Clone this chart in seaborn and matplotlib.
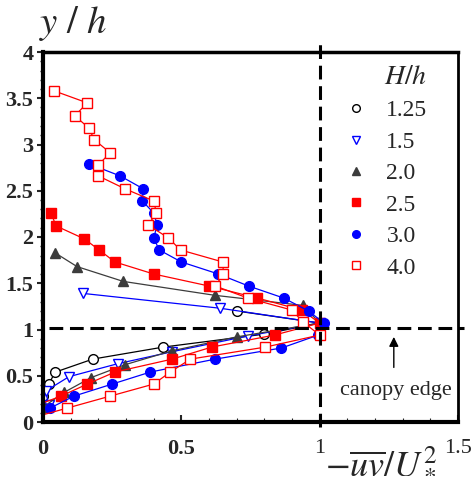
import numpy as np
import pandas as pd
import seaborn as sns
import matplotlib.pyplot as plt
from matplotlib.lines import Line2D

# profiles of -uv/U*^2 against y/h, one list pair per H/h
y_125 = [0.15, 0.28, 0.41, 0.54, 0.68, 0.81, 0.95, 1.07, 1.20]
x_125 = [0.0, 0.0, 0.02, 0.045, 0.18, 0.435, 0.80, 1.0, 0.70]

y_15 = [0.18, 0.335, 0.49, 0.63, 0.76, 0.93, 1.07, 1.23, 1.39]
x_15 = [0.02, 0.01, 0.094, 0.27, 0.467, 0.74, 1.0, 0.64, 0.145]

y_20 = [0.16, 0.32, 0.48, 0.62, 0.77, 0.92, 1.07, 1.26, 1.37, 1.52, 1.68, 1.83]
x_20 = [0.0, 0.076, 0.174, 0.297, 0.467, 0.70, 1.0, 0.94, 0.62, 0.29, 0.123, 0.043]

y_25 = [0.15, 0.28, 0.41, 0.54, 0.68, 0.81, 0.94, 1.07, 1.21, 1.34, 1.47,
        1.60, 1.73, 1.86, 1.98, 2.12, 2.26]
x_25 = [-0.05, 0.065, 0.16, 0.26, 0.467, 0.61, 0.837, 1.0, 0.935, 0.775, 0.60,
        0.40, 0.26, 0.203, 0.149, 0.047, 0.029]

y_30 = [0.15, 0.28, 0.41, 0.54, 0.68, 0.80, 0.94, 1.07, 1.20, 1.34, 1.47,
        1.60, 1.73, 1.86, 1.99, 2.13, 2.26, 2.39, 2.52, 2.66, 2.79]
x_30 = [0.025, 0.112, 0.25, 0.388, 0.623, 0.862, 0.995, 1.015, 0.96, 0.87, 0.743,
        0.634, 0.50, 0.42, 0.40, 0.413, 0.40, 0.359, 0.363, 0.279, 0.167]

y_40 = [0.02, 0.15, 0.28, 0.41, 0.54, 0.68, 0.81, 0.94, 1.08, 1.21, 1.34, 1.47,
        1.60, 1.73, 1.86, 1.99, 2.13, 2.26, 2.39, 2.52, 2.66, 2.78, 2.91, 3.05,
        3.18, 3.31, 3.45, 3.58]
x_40 = [-0.07, 0.087, 0.243, 0.40, 0.46, 0.533, 0.804, 1.0, 0.94, 0.90, 0.74, 0.623,
        0.652, 0.65, 0.497, 0.453, 0.38, 0.41, 0.40, 0.297, 0.2, 0.2, 0.243, 0.186,
        0.165, 0.115, 0.16, 0.04]

labels = ["1.25", "1.5", "2.0", "2.5", "3.0", "4.0"]
xs = [x_125, x_15, x_20, x_25, x_30, x_40]
ys = [y_125, y_15, y_20, y_25, y_30, y_40]

colors = ["black", "blue", "#3c3c3c", "red", "blue", "red"]
markers = ["o", "v", "^", "s", "o", "s"]
filled = [False, False, True, True, True, False]

sns.set_theme(style="ticks")
plt.rcParams["font.family"] = ["Liberation Serif", "DejaVu Serif"]
plt.rcParams["mathtext.fontset"] = "stix"

fig = plt.figure(figsize=(4.72, 4.88), dpi=100)
ax = fig.add_axes([43 / 472, 66 / 488, 415 / 472, 370 / 488])

for lab, x, y, c, m, f in zip(labels, xs, ys, colors, markers, filled):
    df = pd.DataFrame({"x": x, "y": y})
    sns.lineplot(data=df, x="x", y="y", sort=False, estimator=None, ax=ax,
                 color=c, lw=0.9, marker=m, ms=7, mec=c, mew=1.0,
                 mfc=c if f else "white", legend=False)

# canopy edge and unit stress reference lines
ax.plot([0.02, 1.52], [1.02, 1.02], color="black", lw=2.2, dashes=(4.5, 2.2),
        clip_on=False, zorder=5)
ax.plot([1.0, 1.0], [-0.05, 4.1], color="black", lw=2.2, dashes=(4.5, 2.2),
        clip_on=False, zorder=5)

ax.annotate("", xy=(1.268, 0.95), xytext=(1.268, 0.56),
            arrowprops=dict(arrowstyle="-|>", color="black", lw=1, mutation_scale=14))
ax.text(1.275, 0.34, "canopy edge", ha="center", va="center", fontsize=16)

ax.set_xlim(0, 1.5)
ax.set_ylim(0, 4)
ax.set_xticks([0, 0.5, 1, 1.5])
ax.set_xticklabels(["0", "0.5", "1", "1.5"])
ax.set_yticks(np.arange(0, 4.01, 0.5))
ax.set_yticklabels(["0", "0.5", "1", "1.5", "2", "2.5", "3", "3.5", "4"])
ax.set_xticks(np.arange(0, 1.51, 0.1), minor=True)
ax.set_yticks(np.arange(0, 4.01, 0.1), minor=True)
ax.tick_params(axis="y", which="major", direction="out", length=4, width=1.5,
               pad=3, labelsize=16)
ax.tick_params(axis="y", which="minor", direction="out", length=2.5, width=1)
ax.tick_params(axis="x", which="major", direction="in", length=5, width=1.5,
               pad=12, labelsize=16)
ax.tick_params(axis="x", which="minor", direction="in", length=3, width=0.8)
for t in ax.get_yticklabels() + ax.get_xticklabels()[:2]:
    t.set_fontweight("bold")

for side, w in [("left", 3), ("bottom", 3), ("top", 2.5), ("right", 2)]:
    ax.spines[side].set_visible(True)
    ax.spines[side].set_linewidth(w)
    ax.spines[side].set_color("black")

ax.set_xlabel("")
ax.set_ylabel("")
ax.text(-0.01, 1.052, r"$y\ /\ h$", transform=ax.transAxes, fontsize=28,
        ha="left", va="baseline")
ax.text(0.68, -0.13, r"$-\overline{uv}/U_*^2$", transform=ax.transAxes,
        fontsize=26, ha="left", va="baseline")

handles = [Line2D([], [], ls="none", marker=m, ms=5.5, mec=c, mew=1.0,
                  mfc=c if f else "white")
           for c, m, f in zip(colors, markers, filled)]
leg = ax.legend(handles, labels, title=r"$H/h$", loc="upper left",
                bbox_to_anchor=(0.725, 0.965), frameon=False, fontsize=17,
                title_fontsize=20, handlelength=1.0, handletextpad=0.8,
                labelspacing=0.42, borderpad=0, borderaxespad=0,
                alignment="right")

fig.savefig("out.png", dpi=100)
